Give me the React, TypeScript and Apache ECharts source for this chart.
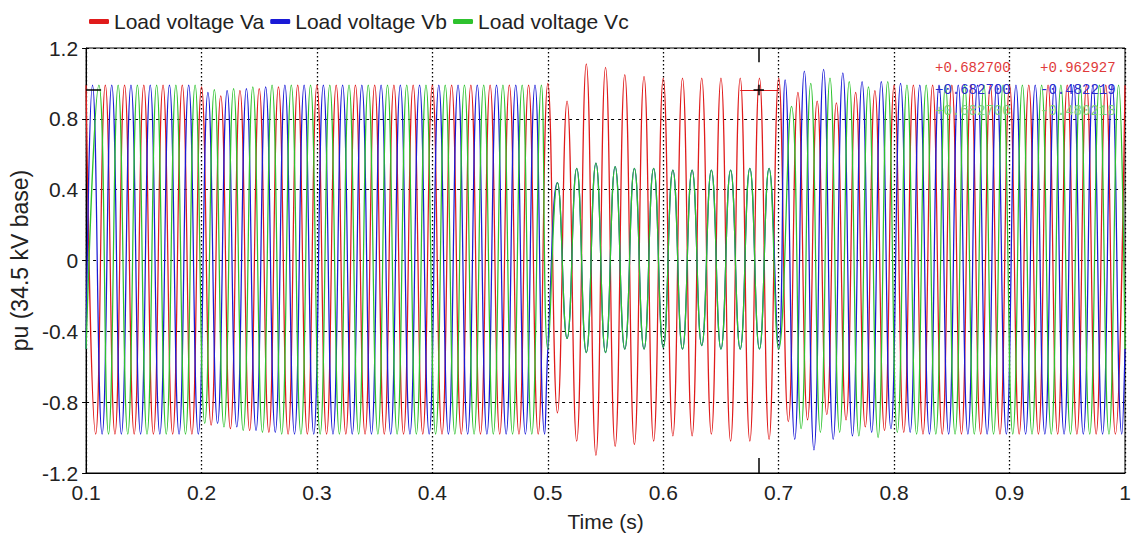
import React, { useEffect, useRef } from "react";
import * as echarts from "echarts";

// ---- axes ----
const xMin = 0.1;
const xMax = 1;
const xInterval = 0.1;
const yMin = -1.2;
const yMax = 1.2;
const yInterval = 0.4;

const seriesNames = ["Load voltage Va", "Load voltage Vb", "Load voltage Vc"];
const seriesColors = ["#e01b1b", "#1a1ad6", "#2ec22e"];

// 60 Hz system: one extreme every half-cycle
const HALF_CYCLE = 1 / 120;
const PHASE_B_DELAY = 1 / 180; // 120 degrees
const PHASE_C_DELAY = 2 / 180; // 240 degrees
const FAULT_START = 0.5;

// ---- Va: extremes (peak / trough), starting at t = 0.1 ----
const vaPre = [
  0.99, -0.98, 0.99, -0.98, 0.99, -0.98, 0.99, -0.98, 0.99, -0.98, 0.99, -0.98,
  0.98, -0.93, 0.93, -0.95, 0.96, -0.96, 0.97, -0.97, 0.98, -0.98, 0.99, -0.98,
  0.99, -0.98, 0.99, -0.98, 0.99, -0.98, 0.99, -0.98, 0.99, -0.98, 0.99, -0.98,
  0.99, -0.98, 0.99, -0.98, 0.99, -0.98, 0.99, -0.98, 0.99, -0.98, 0.99, -0.98,
  1.0,
];
const vaFault = [
  -0.86, 0.9, -1.02, 1.11, -1.1, 1.09, -1.05, 1.05, -1.04, 1.04, -1.02, 1.03,
  -0.99, 1.03, -0.99, 1.03, -0.98, 1.03, -1.02, 1.03, -1.02, 1.03, -1.01, 1.03,
];
const vaPost = [
  -0.91, 0.95, -0.9, 0.9, -0.87, 0.89, -0.9, 0.95, -0.94, 0.96, -0.96, 0.99,
  -0.97, 0.99, -0.98, 0.99, -0.98, 0.99, -0.98, 0.99, -0.98, 0.99, -0.98, 0.99,
  -0.98, 0.99, -0.98, 0.99, -0.98, 0.99, -0.98, 0.99, -0.98, 0.99, -0.98, 0.99,
];

// ---- Vb ----
const vbStart = -0.5;
const vbPre = [
  0.99, -0.98, 0.99, -0.98, 0.99, -0.98, 0.99, -0.98, 0.99, -0.98, 0.99, -0.98,
  0.95, -0.92, 0.96, -0.94, 0.97, -0.96, 0.98, -0.97, 0.99, -0.98, 0.99, -0.98,
  0.99, -0.98, 0.99, -0.98, 0.99, -0.98, 0.99, -0.98, 0.99, -0.98, 0.99, -0.98,
  0.99, -0.98, 0.99, -0.98, 0.99, -0.98, 0.99, -0.98, 0.99, -0.98, 0.99, -0.98,
];
const vbPost = [
  1.02, -1.01, 1.07, -1.07, 1.08, -1.01, 1.06, -0.99, 1.01, -0.97, 1.01, -0.95,
  1.0, -0.97, 0.99, -0.98, 0.99, -0.98, 0.99, -0.98, 0.99, -0.98, 0.99, -0.98,
  0.99, -0.98, 0.99, -0.98, 0.99, -0.98, 0.99, -0.98, 0.99, -0.98, 0.99, -0.98,
];
const vbEnd = -0.5;

// ---- Vc ----
const vcStart = -0.5;
const vcPre = [
  0.99, -0.98, 0.99, -0.98, 0.99, -0.98, 0.99, -0.98, 0.99, -0.98,
  0.99, -0.92, 0.965, -0.94, 0.97, -0.96, 0.98, -0.97, 0.99, -0.98,
  0.99, -0.98, 0.99, -0.98, 0.99, -0.98, 0.99, -0.98, 0.99, -0.98,
  0.99, -0.98, 0.99, -0.98, 0.99, -0.98, 0.99, -0.98, 0.99, -0.98,
  0.99, -0.98, 0.99, -0.98, 0.99, -0.98, 0.99,
];
const vcPost = [
  0.87, -0.95, 1.0, -0.97, 1.03, -0.97, 1.01, -0.99, 0.98, -1.0, 1.01, -0.97,
  0.99, -0.98, 0.99, -0.98, 0.99, -0.98, 0.99, -0.98, 0.99, -0.98, 0.99, -0.98,
  0.99, -0.98, 0.99, -0.98, 0.99, -0.98, 0.99, -0.98, 0.99, -0.98, 0.99,
];
const vcEnd = -0.5;

// ---- B-C fault (0.5 s – 0.7 s): Vb = Vc, extremes at every half-cycle from 0.5 s ----
const faultBC = [
  -0.5, 0.44, -0.44, 0.52, -0.52, 0.55, -0.52, 0.53, -0.5, 0.52, -0.5, 0.52,
  -0.49, 0.51, -0.5, 0.51, -0.48, 0.51, -0.5, 0.51, -0.5, 0.52, -0.5, 0.52, -0.5,
];
const POST_INDEX = 72; // half-cycle index where post-fault extremes resume

// ---- data cursor ----
const cursorTime = 0.6827;
const cursorValues = [0.962927, -0.482219, -0.480218];
const cursorSpan = [0.6667, 0.7];
const cursorLevelMark = [0.1, 0.113];
const cursorCrossHalfT = 0.0045;
const cursorCrossHalfV = 0.03;
const cursorTopTick = [1.2, 1.12];
const cursorBottomTick = [-1.2, -1.115];
const readoutColors = ["#e03a3a", "#2a2ad0", "#7ad07a"];

const FONT = '"Liberation Sans", Arial, sans-serif';

function extremes(values: number[], tBase: number, iStart: number) {
  return values.map((v, k) => [tBase + (iStart + k) * HALF_CYCLE, v]);
}

const vaData = extremes(vaPre.concat(vaFault, vaPost), xMin, 0);
const vbData = [
  [xMin, vbStart],
  ...extremes(vbPre, xMin + PHASE_B_DELAY, 0),
  ...extremes(faultBC, FAULT_START, 0),
  ...extremes(vbPost, xMin + PHASE_B_DELAY, POST_INDEX),
  [xMax, vbEnd],
];
const vcData = [
  [xMin, vcStart],
  ...extremes(vcPre, xMin + PHASE_C_DELAY, 0),
  ...extremes(faultBC, FAULT_START, 0),
  ...extremes(vcPost, xMin + PHASE_C_DELAY, POST_INDEX),
  [xMax, vcEnd],
];
const phaseData = [vaData, vbData, vcData];

const fmtTick = (v: number) => String(parseFloat(v.toFixed(1)));
const fmtReadout = (v: number) => (v >= 0 ? "+" : "") + v.toFixed(6);

export default function App() {
  const ref = useRef<HTMLDivElement>(null);

  useEffect(() => {
    if (!ref.current) return;
    const chart = echarts.init(ref.current, null, { renderer: "svg" });
    const cv = cursorValues[0];

    const option: any = {
      animation: false,
      backgroundColor: "#ffffff",
      legend: {
        data: seriesNames,
        left: 84,
        top: 6,
        icon: "roundRect",
        itemWidth: 20,
        itemHeight: 5,
        itemGap: 6,
        selectedMode: false,
        textStyle: { fontSize: 21, color: "#222", fontFamily: FONT },
      },
      grid: {
        left: 85,
        right: 12,
        top: 48,
        bottom: 65,
        show: true,
        borderColor: "#000",
        borderWidth: 1,
        backgroundColor: "transparent",
      },
      xAxis: {
        type: "value",
        min: xMin,
        max: xMax,
        interval: xInterval,
        name: "Time (s)",
        nameLocation: "middle",
        nameGap: 38,
        nameTextStyle: { fontSize: 21, color: "#222", fontFamily: FONT },
        axisLine: { show: true, onZero: false, lineStyle: { color: "#000", width: 1 } },
        axisTick: { show: false },
        axisLabel: {
          fontSize: 21,
          color: "#222",
          fontFamily: FONT,
          margin: 9,
          formatter: fmtTick,
        },
        splitLine: {
          show: true,
          lineStyle: { color: "#000", width: 1.3, type: [1.5, 2.5] },
        },
      },
      yAxis: {
        type: "value",
        min: yMin,
        max: yMax,
        interval: yInterval,
        name: "pu (34.5 kV base)",
        nameLocation: "middle",
        nameGap: 46,
        nameTextStyle: { fontSize: 23, color: "#222", fontFamily: FONT },
        axisLine: { show: true, onZero: false, lineStyle: { color: "#000", width: 1 } },
        axisTick: { show: true, inside: false, length: 4, lineStyle: { color: "#000" } },
        axisLabel: {
          fontSize: 21,
          color: "#222",
          fontFamily: FONT,
          margin: 8,
          formatter: fmtTick,
        },
        splitLine: {
          show: true,
          lineStyle: { color: "#000", width: 1, type: [3, 4] },
        },
      },
      series: [
        ...seriesNames.map((name, k) => ({
          type: "line",
          name,
          data: phaseData[k],
          smooth: 0.5,
          symbol: "none",
          showSymbol: false,
          silent: true,
          lineStyle: { width: 1.25, color: seriesColors[k] },
          itemStyle: { color: seriesColors[k] },
          z: 2 + k,
        })),
        {
          type: "lines",
          name: "cursor-level",
          coordinateSystem: "cartesian2d",
          silent: true,
          z: 10,
          lineStyle: { color: seriesColors[0], width: 1.2, opacity: 1 },
          data: [{ coords: [[cursorSpan[0], cv], [cursorSpan[1], cv]] }],
        },
        {
          type: "lines",
          name: "cursor-cross",
          coordinateSystem: "cartesian2d",
          silent: true,
          z: 11,
          lineStyle: { color: "#000", width: 1.5, opacity: 1 },
          data: [
            { coords: [[cursorTime - cursorCrossHalfT, cv], [cursorTime + cursorCrossHalfT, cv]] },
            { coords: [[cursorTime, cv - cursorCrossHalfV], [cursorTime, cv + cursorCrossHalfV]] },
            { coords: [[cursorTime, cursorTopTick[0]], [cursorTime, cursorTopTick[1]]] },
            { coords: [[cursorTime, cursorBottomTick[0]], [cursorTime, cursorBottomTick[1]]] },
            { coords: [[cursorLevelMark[0], cv], [cursorLevelMark[1], cv]] },
          ],
        },
      ],
      graphic: cursorValues.flatMap((v, k) => [
        {
          type: "text",
          x: 935,
          y: 68 + k * 21.5,
          z: 100,
          style: {
            text: fmtReadout(cursorTime),
            fill: readoutColors[k],
            font: '14px "Liberation Mono", monospace',
            verticalAlign: "middle",
          },
        },
        {
          type: "text",
          x: 1040,
          y: 68 + k * 21.5,
          z: 100,
          style: {
            text: fmtReadout(v),
            fill: readoutColors[k],
            font: '14px "Liberation Mono", monospace',
            verticalAlign: "middle",
          },
        },
      ]),
    };

    chart.setOption(option);
    return () => chart.dispose();
  }, []);

  return (
    <div
      ref={ref}
      style={{
        position: "fixed",
        left: 0,
        top: 0,
        width: 1137,
        height: 538,
        background: "#fff",
      }}
    />
  );
}
